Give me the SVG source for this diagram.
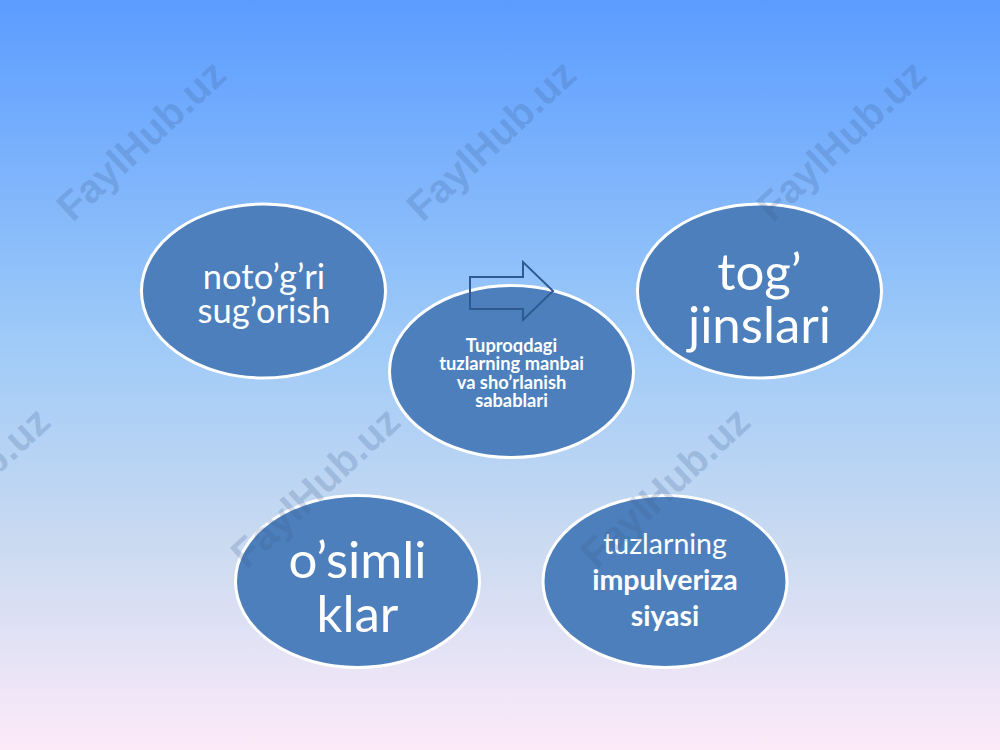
<svg xmlns="http://www.w3.org/2000/svg" width="1000" height="750" viewBox="0 0 1000 750">
  <defs>
    <linearGradient id="bg" x1="0" y1="0" x2="0" y2="1">
      <stop offset="0" stop-color="#5B9CFF"/>
      <stop offset="0.45" stop-color="#9ECAF8"/>
      <stop offset="0.72" stop-color="#C9DAF1"/>
      <stop offset="1" stop-color="#FDEAF9"/>
    </linearGradient>
    <style>
      .node { fill: #4C7FBC; stroke: #FFFFFF; stroke-width: 3; }
      .t { fill: #FFFFFF; font-family: Lato, "Liberation Sans", sans-serif; text-anchor: middle; }
      .b { font-weight: bold; }
      .wm { fill: #3C5E92; fill-opacity: 0.22; font-family: "Liberation Sans", Arial, sans-serif; font-weight: bold; font-size: 40px; text-anchor: middle; }
    </style>
  </defs>
  <rect x="0" y="0" width="1000" height="750" fill="url(#bg)"/>

  <g id="node-sugorish">
    <ellipse class="node" cx="263.5" cy="291" rx="122" ry="87"/>
    <text class="t" font-size="34.5"><tspan x="264" y="289">noto’g’ri</tspan><tspan x="264" y="323">sug’orish</tspan></text>
  </g>
  <g id="node-center">
    <ellipse class="node" cx="511.5" cy="371.5" rx="122" ry="86"/>
    <text class="t b" font-size="18.3"><tspan x="511.5" y="352">Tuproqdagi</tspan><tspan x="511.5" y="370.3">tuzlarning manbai</tspan><tspan x="511.5" y="388.6">va sho’rlanish</tspan><tspan x="511.5" y="406.9">sabablari</tspan></text>
  </g>
  <g id="node-tog">
    <ellipse class="node" cx="759.5" cy="291" rx="122" ry="87"/>
    <text class="t" font-size="51"><tspan x="759.5" y="290">tog’</tspan><tspan x="759.5" y="343">jinslari</tspan></text>
  </g>
  <g id="node-osimliklar">
    <ellipse class="node" cx="357.5" cy="581.5" rx="122" ry="86"/>
    <text class="t" font-size="51"><tspan x="357.5" y="578">o’simli</tspan><tspan x="357.5" y="632">klar</tspan></text>
  </g>
  <g id="node-impulveriza">
    <ellipse class="node" cx="665" cy="581.5" rx="122" ry="86"/>
    <text class="t" font-size="28.5"><tspan x="665" y="554">tuzlarning</tspan><tspan class="b" x="665" y="590">impulveriza</tspan><tspan class="b" x="665" y="626">siyasi</tspan></text>
  </g>

  <g id="connectors">
    <path d="M470,277 L523,277 L523,262 L553,291 L523,320 L523,309 L470,309 Z" fill="none" stroke="#2E5A92" stroke-width="2" stroke-linejoin="miter"/>
  </g>

  <g id="watermarks">
    <text class="wm" transform="translate(141,140) rotate(-43)" y="14">FaylHub.uz</text>
    <text class="wm" transform="translate(491,140) rotate(-43)" y="14">FaylHub.uz</text>
    <text class="wm" transform="translate(841,140) rotate(-43)" y="14">FaylHub.uz</text>
    <text class="wm" transform="translate(-35,487) rotate(-43)" y="14">FaylHub.uz</text>
    <text class="wm" transform="translate(315,487) rotate(-43)" y="14">FaylHub.uz</text>
    <text class="wm" transform="translate(665,487) rotate(-43)" y="14">FaylHub.uz</text>
  </g>
</svg>
